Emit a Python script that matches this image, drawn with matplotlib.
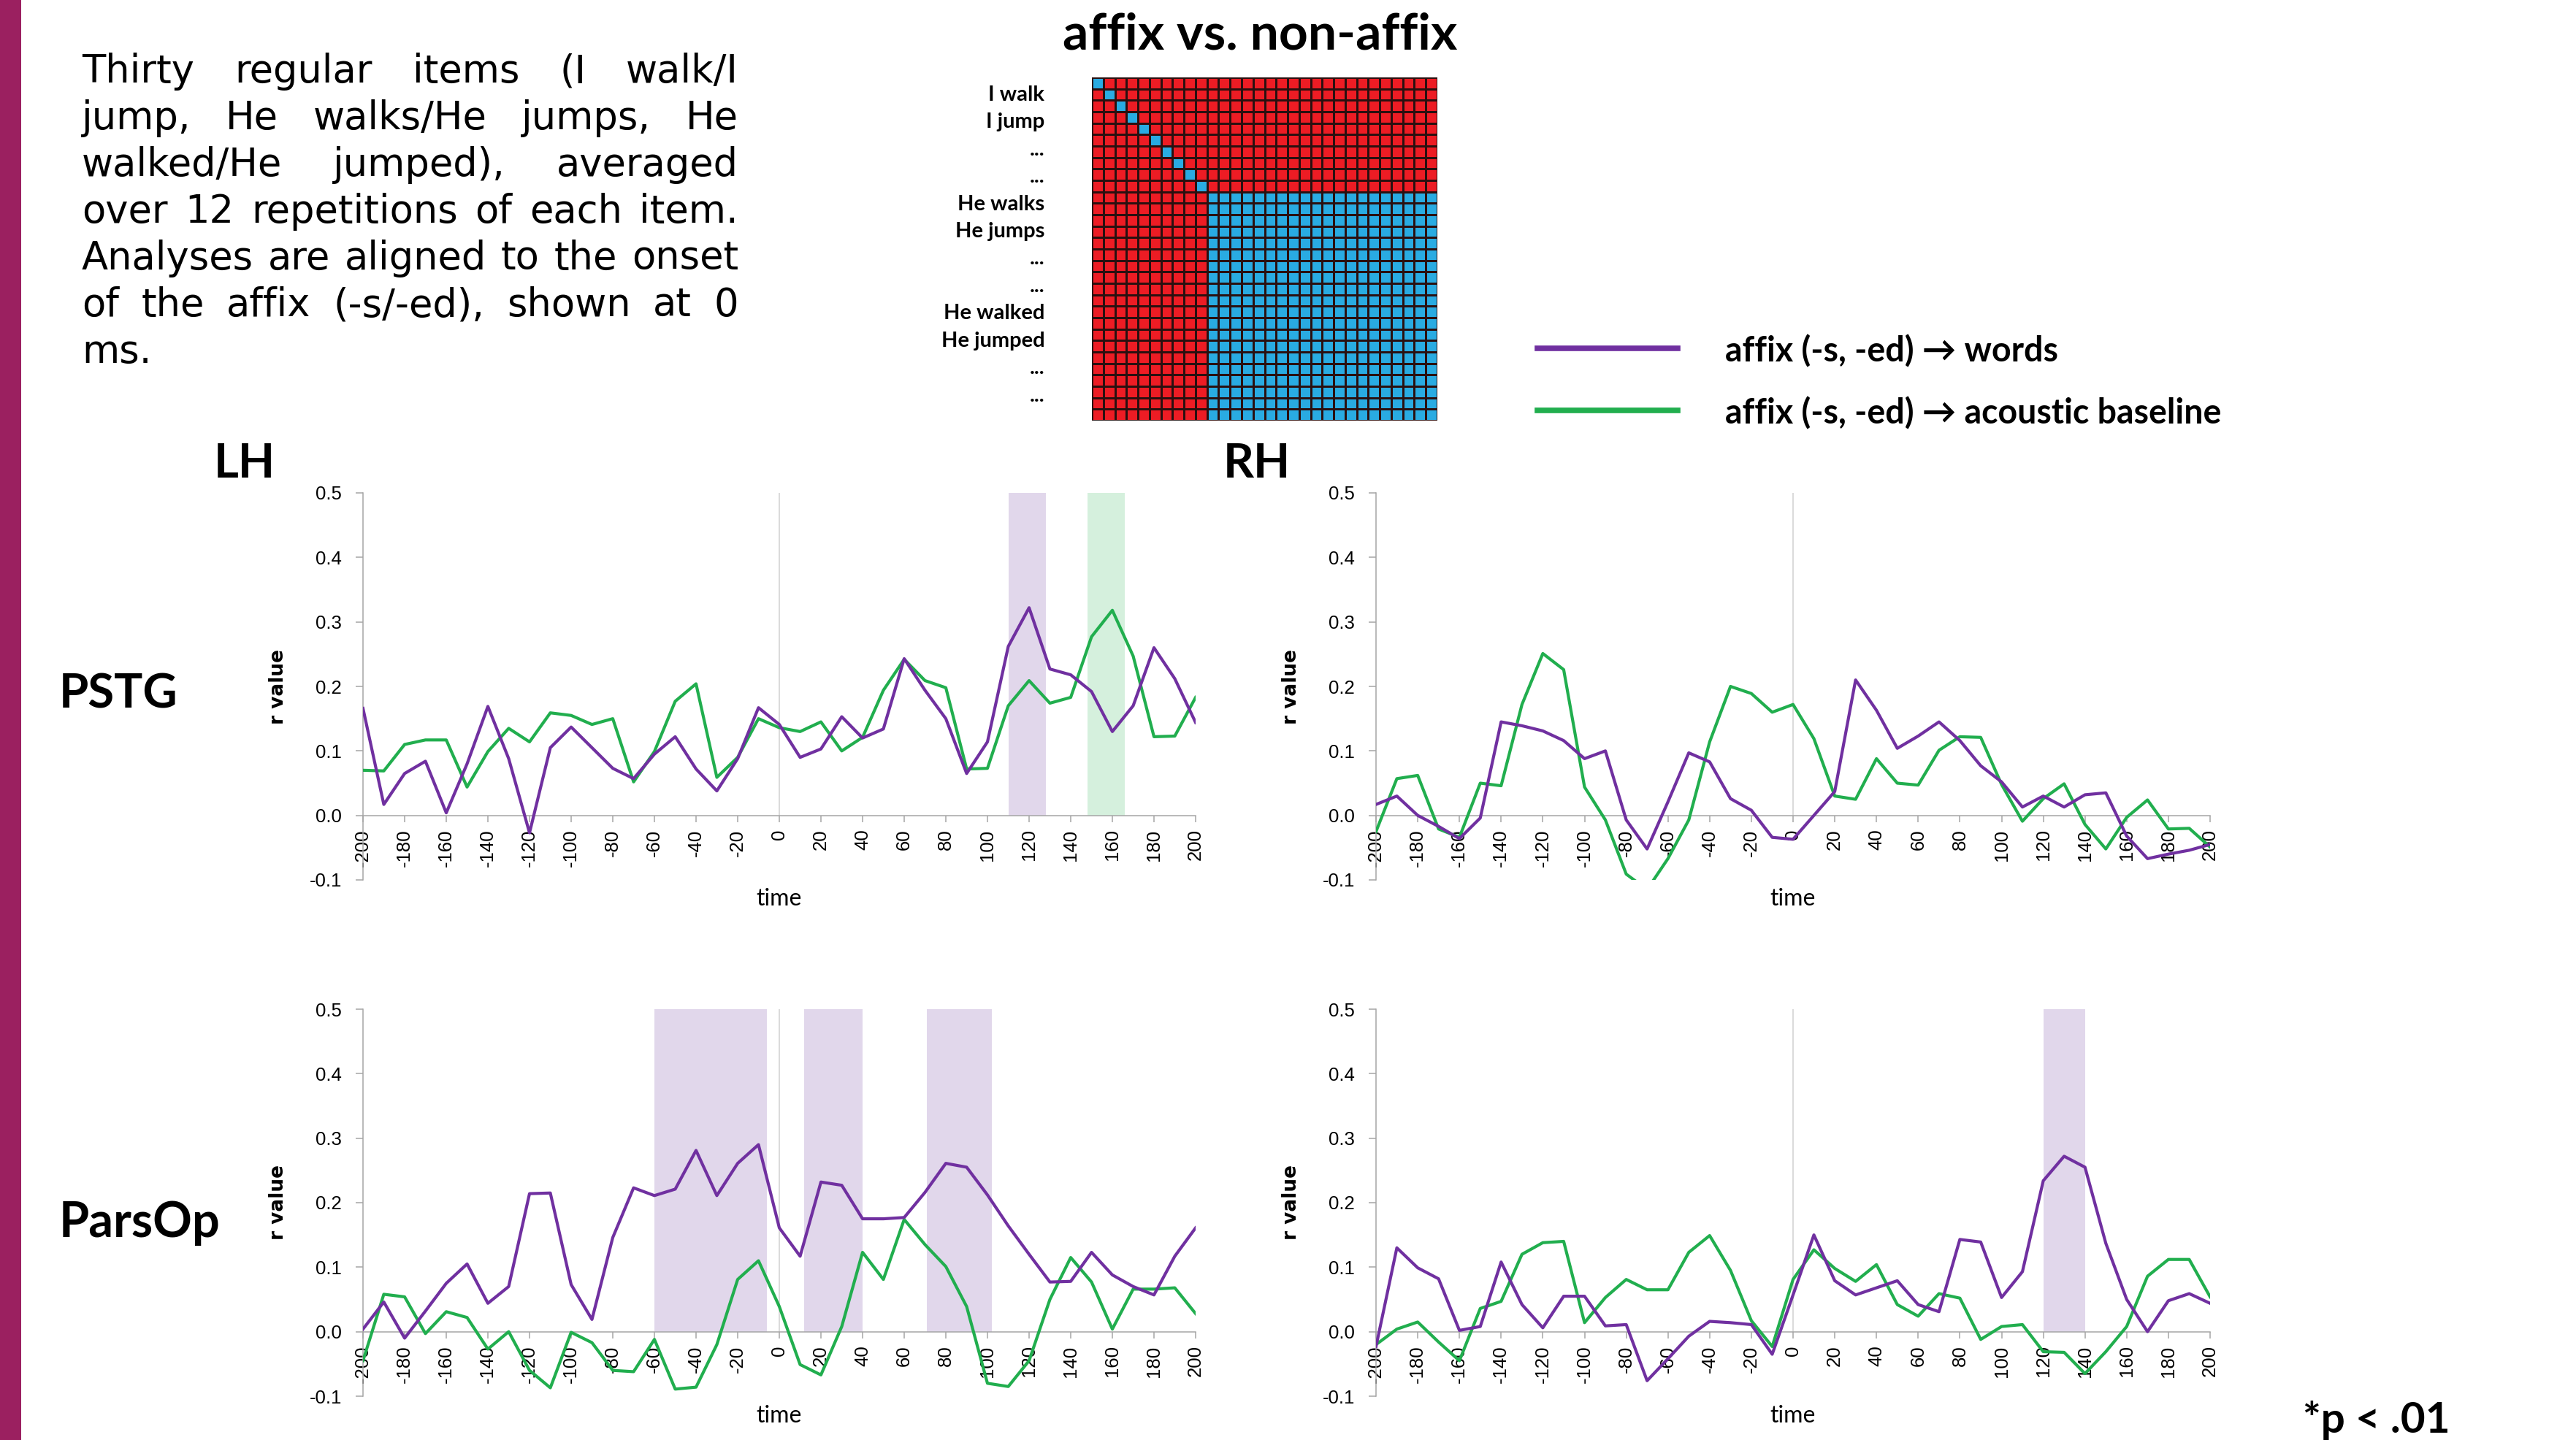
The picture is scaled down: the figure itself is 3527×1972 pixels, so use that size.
import numpy as np
import matplotlib
matplotlib.use("Agg")
import matplotlib.pyplot as plt
from matplotlib.colors import ListedColormap
from matplotlib.lines import Line2D

# ---------------- data ----------------
time_ms = list(range(-200, 201, 10))
tick_ms = list(range(-200, 201, 20))
r_ticks = [-0.1, 0.0, 0.1, 0.2, 0.3, 0.4, 0.5]

lh_pstg_words = [0.166, 0.017, 0.065, 0.084, 0.004, 0.080, 0.169, 0.088, -0.027, 0.105,
                 0.137, 0.105, 0.073, 0.057, 0.095, 0.122, 0.072, 0.038, 0.088, 0.167,
                 0.141, 0.090, 0.103, 0.153, 0.120, 0.134, 0.243, 0.194, 0.150, 0.065,
                 0.114, 0.262, 0.322, 0.227, 0.218, 0.192, 0.130, 0.170, 0.260, 0.212, 0.144]
lh_pstg_base = [0.070, 0.069, 0.110, 0.117, 0.117, 0.044, 0.099, 0.135, 0.114, 0.159,
                0.155, 0.141, 0.150, 0.052, 0.099, 0.177, 0.204, 0.059, 0.090, 0.150,
                0.136, 0.130, 0.145, 0.100, 0.121, 0.194, 0.242, 0.209, 0.198, 0.072,
                0.073, 0.170, 0.209, 0.174, 0.183, 0.277, 0.318, 0.247, 0.122, 0.123, 0.183]
rh_pstg_words = [0.017, 0.030, 0.000, -0.017, -0.036, -0.004, 0.145, 0.139, 0.131, 0.116,
                 0.088, 0.100, -0.007, -0.052, 0.021, 0.097, 0.083, 0.026, 0.008, -0.034,
                 -0.037, 0.000, 0.037, 0.210, 0.163, 0.104, 0.123, 0.145, 0.116, 0.077,
                 0.052, 0.013, 0.030, 0.013, 0.032, 0.035, -0.032, -0.067, -0.060, -0.054, -0.045]
rh_pstg_base = [-0.025, 0.057, 0.062, -0.021, -0.034, 0.050, 0.046, 0.172, 0.251, 0.226,
                0.044, -0.007, -0.091, -0.115, -0.067, -0.007, 0.114, 0.200, 0.189, 0.160,
                0.172, 0.119, 0.030, 0.025, 0.088, 0.050, 0.047, 0.101, 0.122, 0.121,
                0.048, -0.009, 0.026, 0.049, -0.014, -0.052, -0.003, 0.024, -0.021, -0.020, -0.049]
lh_parsop_words = [0.004, 0.046, -0.010, 0.032, 0.075, 0.105, 0.044, 0.070, 0.214, 0.215,
                   0.073, 0.019, 0.146, 0.223, 0.211, 0.221, 0.281, 0.211, 0.261, 0.290,
                   0.161, 0.117, 0.232, 0.227, 0.175, 0.175, 0.177, 0.216, 0.261, 0.255,
                   0.212, 0.164, 0.120, 0.077, 0.078, 0.123, 0.088, 0.070, 0.057, 0.117, 0.161]
lh_parsop_base = [-0.045, 0.058, 0.054, -0.003, 0.031, 0.022, -0.027, 0.000, -0.060, -0.087,
                  -0.001, -0.017, -0.060, -0.062, -0.012, -0.089, -0.086, -0.020, 0.081, 0.110,
                  0.039, -0.051, -0.067, 0.008, 0.123, 0.081, 0.174, 0.135, 0.101, 0.039,
                  -0.080, -0.085, -0.045, 0.050, 0.115, 0.077, 0.004, 0.066, 0.066, 0.068, 0.028]
rh_parsop_words = [-0.023, 0.130, 0.099, 0.082, 0.002, 0.008, 0.108, 0.042, 0.006, 0.055,
                   0.055, 0.009, 0.011, -0.076, -0.042, -0.007, 0.016, 0.014, 0.011, -0.035,
                   0.057, 0.150, 0.079, 0.057, 0.068, 0.079, 0.042, 0.031, 0.143, 0.139,
                   0.053, 0.093, 0.234, 0.272, 0.255, 0.137, 0.050, 0.000, 0.048, 0.059, 0.044]
rh_parsop_base = [-0.020, 0.004, 0.015, -0.016, -0.045, 0.036, 0.047, 0.120, 0.138, 0.140,
                  0.014, 0.053, 0.081, 0.065, 0.065, 0.123, 0.149, 0.095, 0.017, -0.023,
                  0.081, 0.127, 0.098, 0.078, 0.104, 0.042, 0.024, 0.059, 0.052, -0.012,
                  0.008, 0.011, -0.031, -0.032, -0.065, -0.031, 0.008, 0.086, 0.112, 0.112, 0.054]

# significant windows (ms)
lh_pstg_sig_words = [(110, 128)]
lh_pstg_sig_base = [(148, 166)]
rh_pstg_sig_words = []
rh_pstg_sig_base = []
lh_parsop_sig_words = [(-60, -6), (12, 40), (71, 102)]
lh_parsop_sig_base = []
rh_parsop_sig_words = [(120, 140)]
rh_parsop_sig_base = []

series_labels = ["affix (-s, -ed) \u2192 words", "affix (-s, -ed) \u2192 acoustic baseline"]
hemispheres = ["LH", "RH"]
regions = ["PSTG", "ParsOp"]

matrix_row_labels = ["I walk", "I jump", "...", "...", "He walks", "He jumps", "...", "...",
                     "He walked", "He jumped", "...", "..."]
item_is_affix = [False] * 10 + [True] * 20
matrix_title = "affix vs. non-affix"

para_lines = ["Thirty regular items (I walk/I",
              "jump, He walks/He jumps, He",
              "walked/He jumped), averaged",
              "over 12 repetitions of each item.",
              "Analyses are aligned to the onset",
              "of the affix (-s/-ed), shown at 0",
              "ms."]

# ---------------- style ----------------
PURPLE = "#7030A0"
GREEN = "#21AE4E"
PURPLE_SHADE = "#E1D7EB"
GREEN_SHADE = "#D5F0DD"
AXIS_GRAY = "#A6A6A6"
BOLD = ["Lato", "DejaVu Sans"]

W, H = 3527, 1972
fig = plt.figure(figsize=(W / 100, H / 100), dpi=100)
fig.patch.set_facecolor("white")


def fbox(x0, x1, ytop, ybot):
    return [x0 / W, 1 - ybot / H, (x1 - x0) / W, (ybot - ytop) / H]


col_x = [(497, 1637), (1884, 3026)]
row_y = [(675, 1205), (1382, 1912)]

panel_data = {
    ("LH", "PSTG"): (lh_pstg_words, lh_pstg_base, lh_pstg_sig_words, lh_pstg_sig_base),
    ("RH", "PSTG"): (rh_pstg_words, rh_pstg_base, rh_pstg_sig_words, rh_pstg_sig_base),
    ("LH", "ParsOp"): (lh_parsop_words, lh_parsop_base, lh_parsop_sig_words, lh_parsop_sig_base),
    ("RH", "ParsOp"): (rh_parsop_words, rh_parsop_base, rh_parsop_sig_words, rh_parsop_sig_base),
}

for ri, reg in enumerate(regions):
    for ci, hemi in enumerate(hemispheres):
        words, base, sig_w, sig_b = panel_data[(hemi, reg)]
        ax = fig.add_axes(fbox(col_x[ci][0], col_x[ci][1], row_y[ri][0], row_y[ri][1]))
        ax.set_xlim(-200, 200)
        ax.set_ylim(-0.1, 0.5)
        for a, b in sig_w:
            ax.axvspan(a, b, ymin=1 / 6, ymax=1, color=PURPLE_SHADE, lw=0, zorder=0)
        for a, b in sig_b:
            ax.axvspan(a, b, ymin=1 / 6, ymax=1, color=GREEN_SHADE, lw=0, zorder=0)
        ax.vlines(0, 0, 0.5, color="#D4D4D4", lw=1.2, zorder=1)
        ax.plot(time_ms, base, color=GREEN, lw=3.0, zorder=3)
        ax.plot(time_ms, words, color=PURPLE, lw=3.0, zorder=4)

        ax.spines["top"].set_visible(False)
        ax.spines["right"].set_visible(False)
        ax.spines["bottom"].set_position(("data", 0))
        for s in ("left", "bottom"):
            ax.spines[s].set_color(AXIS_GRAY)
            ax.spines[s].set_linewidth(1.1)
        ax.set_xticks(tick_ms)
        ax.set_xticklabels([str(t) for t in tick_ms], rotation=90,
                           fontsize=18.5, family="Liberation Sans")
        ax.set_yticks(r_ticks)
        ax.set_yticklabels(["%.1f" % v for v in r_ticks], fontsize=18.5, family="Liberation Sans")
        ax.tick_params(axis="x", direction="out", length=6.5, width=1.1, color=AXIS_GRAY, pad=7)
        ax.tick_params(axis="y", direction="out", length=7, width=1.1, color=AXIS_GRAY, pad=14)
        ax.set_ylabel("r value", fontsize=19, fontweight="bold", family="DejaVu Sans")
        ax.yaxis.set_label_coords(-0.09, 0.5)
        ax.text(0.5, -0.05, "time", transform=ax.transAxes, ha="center", va="center",
                fontsize=23, family="Lato")

# hemisphere / region labels
fig.text(335 / W, 1 - 636 / H, hemispheres[0], ha="center", va="center",
         fontsize=47, fontweight="bold", family=BOLD)
fig.text(1721 / W, 1 - 636 / H, hemispheres[1], ha="center", va="center",
         fontsize=47, fontweight="bold", family=BOLD)
fig.text(81 / W, 1 - 951 / H, regions[0], ha="left", va="center",
         fontsize=47, fontweight="bold", family=BOLD)
fig.text(81 / W, 1 - 1675 / H, regions[1], ha="left", va="center",
         fontsize=48, fontweight="bold", family=BOLD)

# ---------------- model matrix ----------------
affix = np.array(item_is_affix)
n_items = len(affix)
same_item = np.eye(n_items, dtype=bool)
model = (same_item | (affix[:, None] & affix[None, :])).astype(int)
axm = fig.add_axes(fbox(1495, 1968, 106, 576))
axm.pcolormesh(model, cmap=ListedColormap(["#ED1C24", "#29ABE2"]), vmin=0, vmax=1,
               edgecolors="#2a1010", linewidth=0.8)
axm.set_xlim(0, n_items)
axm.set_ylim(n_items, 0)
axm.axis("off")
label_y = np.linspace(1.53, 27.8, len(matrix_row_labels))
for lab, yy in zip(matrix_row_labels, label_y):
    axm.text(-4.1, yy, lab, ha="right", va="center", fontsize=21,
             fontweight="bold", family=BOLD)
fig.text(1725 / W, 1 - 48 / H, matrix_title, ha="center", va="center",
         fontsize=50, fontweight="bold", family=BOLD)

# ---------------- legend ----------------
for lab, col, yy in zip(series_labels, [PURPLE, GREEN], [477, 562]):
    fig.add_artist(Line2D([2105 / W, 2297 / W], [1 - yy / H, 1 - yy / H], color=col,
                          lw=5.5, transform=fig.transFigure))
    fig.text(2362 / W, 1 - (yy + 4) / H, lab, ha="left", va="center", fontsize=33.5,
             fontweight="bold", family=BOLD)

fig.text(3153 / W, 1 - 1962 / H, "*p < .01", ha="left", va="baseline", fontsize=42,
         fontweight="bold", family=BOLD)

# ---------------- left accent bar ----------------
fig.add_artist(plt.Rectangle((0, 0), 29 / W, 1, transform=fig.transFigure,
                             color="#9B2060", lw=0))

# ---------------- justified paragraph ----------------
fig.canvas.draw()
renderer = fig.canvas.get_renderer()
para_left, para_right = 112, 1011
for i, line in enumerate(para_lines):
    ybase = 1 - (113 + 64 * i) / H
    if i == len(para_lines) - 1:
        fig.text(para_left / W, ybase, line, ha="left", va="baseline",
                 fontsize=38, family="DejaVu Sans")
        continue
    words = line.split(" ")
    objs = [fig.text(0, ybase, w, ha="left", va="baseline", fontsize=38,
                     family="DejaVu Sans") for w in words]
    widths = [o.get_window_extent(renderer).width for o in objs]
    gap = (para_right - para_left - sum(widths)) / (len(words) - 1)
    xpos = para_left
    for o, wdt in zip(objs, widths):
        o.set_x(xpos / W)
        xpos += wdt + gap

fig.savefig("out.png", dpi=100, facecolor="white")
